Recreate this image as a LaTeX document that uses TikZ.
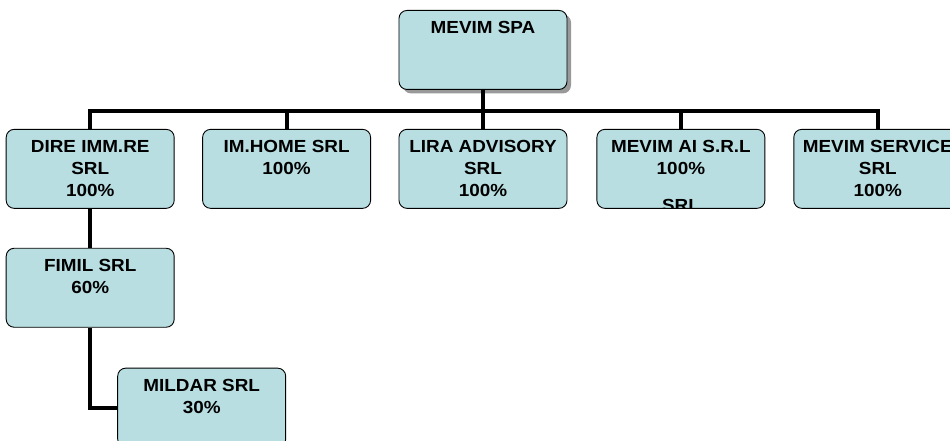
\documentclass[tikz,border=0pt]{standalone}
\usepackage{fontspec}
\setmainfont{Liberation Sans}[FakeStretch=1.08]
\usetikzlibrary{positioning, shadows}
\definecolor{unitFill}{HTML}{B8DEE2}

\begin{document}
\begin{tikzpicture}[
  x=1pt, y=1pt,
  node distance=39pt and 27.5pt,
  unittext/.style={
    draw=none, fill=none, minimum width=0pt, minimum height=0pt,
    inner sep=0pt, anchor=north, align=center,
    font=\fontsize{17.5}{22}\selectfont\bfseries,
  },
  unit/.style={
    rectangle, rounded corners=8pt, draw=black, fill=unitFill,
    line width=0.9pt, minimum width=168pt, minimum height=79pt, inner sep=0pt,
    path picture={\node[unittext] at ([yshift=-10.5pt]path picture bounding box.north) {#1};},
  },
  link/.style={line width=4pt, draw=black, line join=miter},
]
\node[unit={MEVIM SPA},
  drop shadow={shadow xshift=4pt, shadow yshift=-4pt, fill=gray!80, opacity=1}] (spa) {};
\useasboundingbox ([xshift=-483pt, yshift=10pt]spa.north) rectangle ++(950pt,-441pt);

% Controlled companies
\node[unit={LIRA ADVISORY\\SRL\\100\%}, below=of spa] (lira) {};
\node[unit={IM.HOME SRL\\100\%}, left=of lira] (imhome) {};
\node[unit={DIRE IMM.RE\\SRL\\100\%}, left=of imhome] (dire) {};
\node[unit={MEVIM AI S.R.L\\100\%\\[15pt]SRL}, right=29pt of lira] (ai) {};
\node[unit={MEVIM SERVICE\\SRL\\100\%}, right=28pt of ai] (service) {};

% Second level
\node[unit={FIMIL SRL\\60\%}, below=of dire] (fimil) {};
\node[unit={MILDAR SRL\\30\%}, below=40pt of fimil, xshift=111.5pt] (mildar) {};

\coordinate (bus) at ([yshift=-21pt]spa.south);
\draw[link] (spa.south) -- (lira.north);
\foreach \n in {dire, imhome, ai, service}
  \draw[link] (\n.north) |- (bus);

\draw[link] (dire.south) -- (fimil.north);
\draw[link] (fimil.south) |- (mildar.west);

\end{tikzpicture}
\end{document}
